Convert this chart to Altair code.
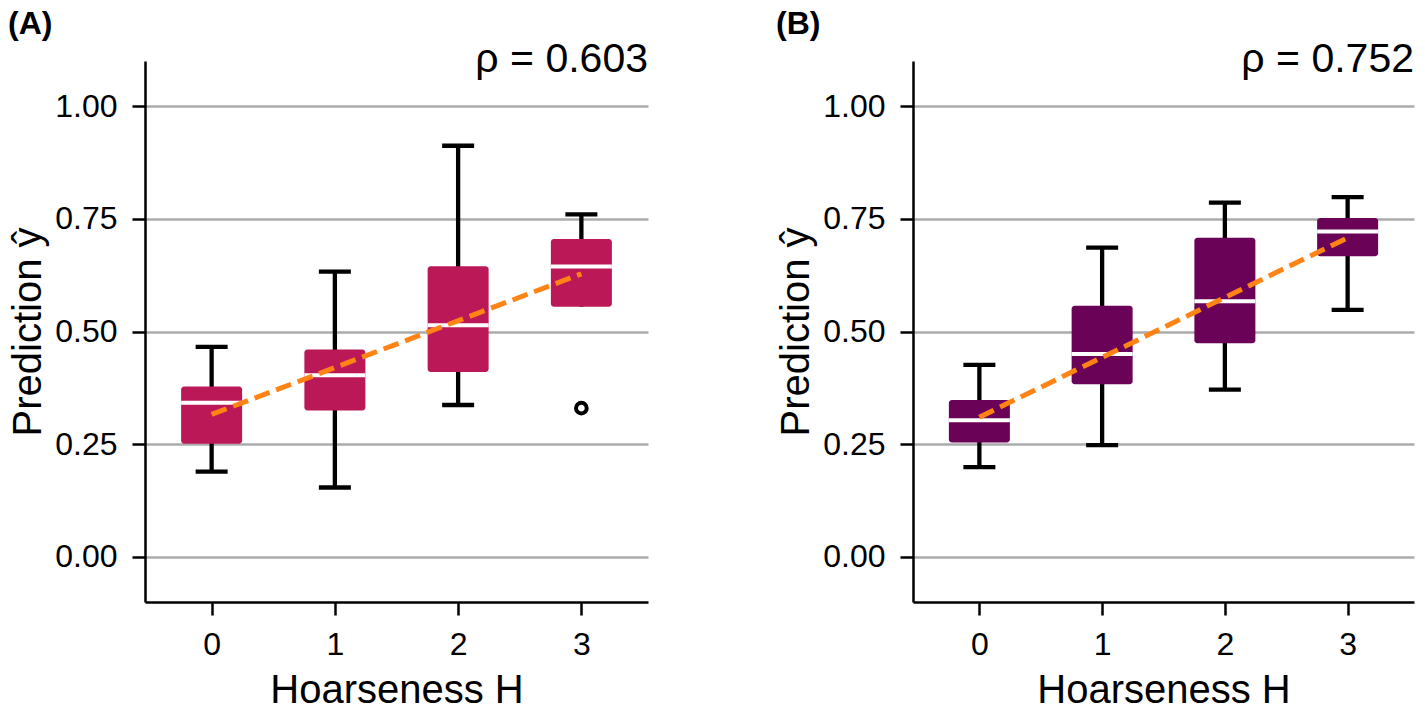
import altair as alt
import pandas as pd

H = [0, 1, 2, 3]

# Panel A box statistics
A_lo = [0.189, 0.154, 0.337, 0.555]
A_q1 = [0.251, 0.325, 0.410, 0.555]
A_med = [0.342, 0.403, 0.514, 0.644]
A_q3 = [0.378, 0.460, 0.645, 0.705]
A_hi = [0.466, 0.633, 0.912, 0.760]
A_out_h = [3]
A_out_y = [0.330]
A_fit = [0.316, 0.628]

# Panel B box statistics
B_lo = [0.199, 0.248, 0.371, 0.548]
B_q1 = [0.254, 0.383, 0.474, 0.667]
B_med = [0.303, 0.450, 0.567, 0.722]
B_q3 = [0.348, 0.557, 0.708, 0.752]
B_hi = [0.426, 0.686, 0.786, 0.798]
B_out_h = []
B_out_y = []
B_fit = [0.310, 0.708]

Y_TICKS = [0.0, 0.25, 0.5, 0.75, 1.0]
FONT = "Liberation Sans"


def panel(label, rho, color, lo, q1, med, q3, hi, fit, out_h, out_y, width):
    df = pd.DataFrame({"H": H, "lo": lo, "q1": q1, "med": med, "q3": q3, "hi": hi})
    fit_df = pd.DataFrame({"H": [H[0], H[-1]], "y": fit})
    xs = alt.Scale(domain=[-0.5, 3.5], nice=False, zero=False)
    ys = alt.Scale(domain=[-0.1, 1.1], nice=False, zero=False)
    xax = alt.Axis(values=H, format="d", title="Hoarseness H", grid=False,
                   labelPadding=14, titlePadding=10)
    yax = alt.Axis(values=Y_TICKS, format=".2f", title="Prediction ŷ", grid=True,
                   labelPadding=15, titlePadding=6)
    base = alt.Chart(df)
    whisk = base.mark_rule(color="black", strokeWidth=4.3).encode(
        x=alt.X("H:Q", scale=xs, axis=xax),
        y=alt.Y("lo:Q", scale=ys, axis=yax),
        y2="hi:Q",
    )
    cap_hi = base.mark_tick(orient="horizontal", color="black", size=32, thickness=4.3,
                            opacity=1).encode(x="H:Q", y="hi:Q")
    cap_lo = base.transform_filter("datum.lo < datum.q1").mark_tick(
        orient="horizontal", color="black", size=32, thickness=4.3, opacity=1
    ).encode(x="H:Q", y="lo:Q")
    box = base.mark_bar(size=61, color=color, cornerRadius=3, opacity=1).encode(
        x="H:Q", y="q1:Q", y2="q3:Q")
    median = base.mark_tick(orient="horizontal", color="white", size=61, thickness=4,
                            opacity=1).encode(x="H:Q", y="med:Q")
    trend = alt.Chart(fit_df).mark_line(color="#FF8315", strokeWidth=5,
                                        strokeDash=[16, 7]).encode(x="H:Q", y="y:Q")
    layers = [whisk, cap_hi, cap_lo, box, median, trend]
    if out_h:
        outl = alt.Chart(pd.DataFrame({"H": out_h, "y": out_y})).mark_point(
            shape="circle", filled=False, color="black", strokeWidth=4, size=115, opacity=1
        ).encode(x="H:Q", y="y:Q")
        layers.append(outl)
    lab = alt.Chart(pd.DataFrame({"t": [label]})).mark_text(
        font=FONT, fontSize=32, fontWeight="bold", align="left", baseline="alphabetic",
        color="black").encode(text="t:N", x=alt.value(-137), y=alt.value(-27))
    rho_t = alt.Chart(pd.DataFrame({"t": [rho]})).mark_text(
        font=FONT, fontSize=41, align="right", baseline="alphabetic",
        color="black").encode(text="t:N", x=alt.value(width), y=alt.value(11))
    layers += [lab, rho_t]
    return alt.layer(*layers).properties(width=width, height=541)


pA = panel("(A)", "ρ = 0.603", "#BA1856", A_lo, A_q1, A_med, A_q3, A_hi, A_fit,
           A_out_h, A_out_y, 503)
pB = panel("(B)", "ρ = 0.752", "#6A0258", B_lo, B_q1, B_med, B_q3, B_hi, B_fit,
           B_out_h, B_out_y, 501)

chart = alt.hconcat(pA, pB, spacing=128).properties(
    padding={"left": 0, "top": 0, "right": 3, "bottom": 0}
).configure_view(strokeWidth=0).configure_axis(
    labelFont=FONT, labelFontSize=32, labelColor="black",
    titleFont=FONT, titleFontSize=40, titleFontWeight="normal", titleColor="black",
    domainColor="black", domainWidth=2.5, tickColor="black", tickWidth=2.5, tickSize=13,
    gridColor="#ababab", gridWidth=2.5,
)

chart.save("out.html", embed_options={"renderer": "svg", "actions": False})
